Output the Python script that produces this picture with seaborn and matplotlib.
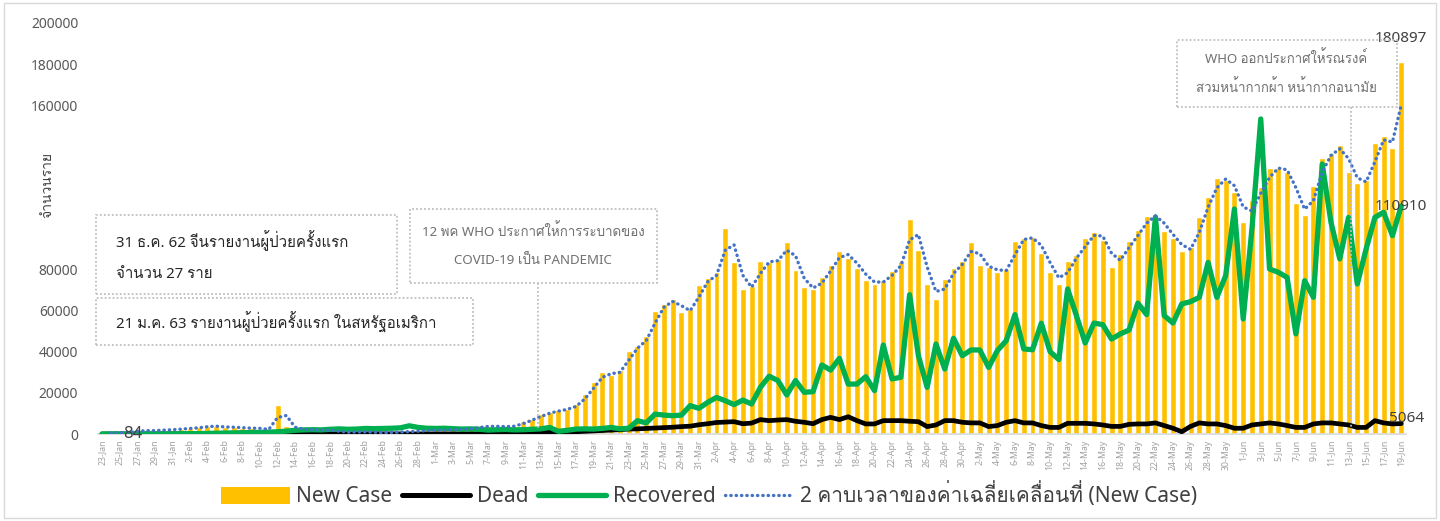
import numpy as np
import pandas as pd
import matplotlib
matplotlib.use("Agg")
import matplotlib.pyplot as plt
import seaborn as sns
from matplotlib import font_manager as fm
from matplotlib.ft2font import FT2Font
from matplotlib.patches import Rectangle, Patch
from matplotlib.lines import Line2D

# ---------------- data ----------------
dates = pd.date_range("2020-01-23", "2020-06-19", freq="D")
date_labels = [f"{d.day}-{d:%b}" for d in dates]

new_case = [
    300, 500, 700, 800, 1800, 1500, 1800, 2000, 2100,
    2600, 2800, 3200, 3900, 3700, 3200, 3400, 2700, 3000, 2500, 2000,
    14000, 4000, 2600, 2100, 2000, 1900, 1800, 900, 900, 1000, 1100, 700, 600, 900, 1000, 1300, 1400, 1900,
    1800, 1900, 2300, 2200, 2800, 3500, 3900, 3600, 3600, 4000,
    6200, 7300, 9700, 10500, 11800, 12200, 14600, 19500, 25100, 30000, 28700, 31300, 40500, 43000, 47900,
    60000, 63300, 65700, 59200, 60800, 72500,
    75700, 78700, 100200, 83900, 70600, 72200, 84000, 83500, 85200, 93600, 80000, 71500, 70600, 76200,
    82400, 89200, 85500, 80800, 74900, 73000, 74900, 79500, 84300, 104600, 89500, 73000, 65700, 75400,
    80800, 84300, 93300, 82200, 81100, 78700, 80300, 94100, 95200, 95700, 87900, 79000, 73000, 84000,
    87100, 95200, 98100, 94600, 81400, 87600, 93800, 99300, 105900, 106400, 98800, 95500, 88900, 90800,
    105400, 115200, 124400, 123700, 118000, 103000, 114000, 120200, 129400, 129400, 127700, 112200,
    106600, 120600, 134300, 136800, 140800, 127300, 122000, 123400, 141400, 144800, 139400, 180897,
]

dead = [
    8, 16, 15, 24, 26, 26, 38, 43, 46,
    45, 57, 64, 66, 73, 73, 86, 89, 97, 108, 97,
    254, 121, 143, 142, 106, 98, 136, 115, 118, 109, 97, 150, 71, 52, 29, 44, 47, 35,
    50, 70, 75, 85, 100, 100, 300, 350, 400, 500,
    600, 700, 800, 900, 1000, 1200, 1100, 1300, 1500, 1700, 1900, 2100, 2400, 2500, 2700,
    2900, 3100, 3300, 3600, 3800, 4500,
    5000, 5600, 5800, 6000, 5000, 5300, 7000, 6500, 6800, 7000, 6200, 5700, 5000, 7000,
    8100, 7000, 8400, 6500, 4900, 4900, 6500, 6500, 6500, 6200, 6000, 3600, 4400, 6500,
    6500, 5700, 5400, 5400, 3600, 4100, 5700, 6500, 5400, 5400, 4100, 3200, 3200, 5200,
    5200, 5200, 4900, 4400, 3700, 3700, 4700, 4900, 4900, 5400, 4100, 2800, 1100, 3700,
    5400, 4900, 4900, 4100, 2800, 2800, 4400, 4900, 5400, 4900, 4100, 3200,
    3200, 4900, 5400, 5400, 4900, 4400, 3200, 3200, 6500, 5400, 4900, 5064,
]

recovered = [
    0, 5, 10, 15, 20, 30, 40, 50, 70,
    100, 150, 200, 300, 350, 450, 550, 600, 700, 800, 900,
    1100, 1400, 1800, 2000, 2100, 2000, 2300, 2500, 2300, 2400, 2700, 2600, 2700, 2800, 3000, 4000, 3200, 2800,
    2700, 2800, 2600, 2400, 2500, 2300, 1900, 2100, 2200, 2000,
    2100, 2300, 2500, 3200, 1300, 1800, 2400, 2500, 2400, 2700, 3200, 2500, 2800, 6500, 5400,
    9700, 9200, 8900, 9200, 13800, 12500,
    15400, 17800, 16200, 14300, 16500, 14600, 22700, 28100, 26000, 19000, 26000, 20300, 20600, 33600,
    31100, 36800, 24300, 24300, 27900, 21100, 43300, 26800, 27600, 67800, 38100, 22700, 43800, 31600,
    46600, 38100, 40900, 40900, 32400, 40600, 45400, 58100, 41400, 41000, 53900, 40100, 36200, 70600,
    57600, 44300, 54000, 53200, 46200, 48700, 50600, 63700, 58100, 105600, 57600, 54000, 63300, 64400,
    66500, 83500, 66500, 77000, 109500, 56000, 100000, 153300, 80300, 78700, 76200, 48700,
    74600, 66500, 131400, 103000, 85200, 105400, 73000, 90000, 105400, 107900, 96500, 110910,
]

y_tick_values = [0, 20000, 40000, 60000, 80000, 160000, 180000, 200000]

series_names = ["New Case", "Dead", "Recovered", "2 คาบเวลาของค่าเฉลี่ยเคลื่อนที่ (New Case)"]
y_title = "จำนวนราย"
note_china = ["31 ธ.ค. 62 จีนรายงานผู้ป่วยครั้งแรก", "จำนวน 27 ราย"]
note_usa = "21 ม.ค. 63 รายงานผู้ป่วยครั้งแรก ในสหรัฐอเมริกา"
note_pandemic = ["12 พค WHO ประกาศให้การระบาดของ", "COVID-19 เป็น PANDEMIC"]
note_mask = ["WHO ออกประกาศให้รณรงค์", "สวมหน้ากากผ้า หน้ากากอนามัย"]
first_label = "84"

# ---------------- fonts ----------------
def find_thai_families():
    fams = []
    for f in fm.fontManager.ttflist:
        if f.name in fams:
            continue
        try:
            cm = FT2Font(f.fname).get_charmap()
        except Exception:
            continue
        if 0x0E08 in cm and 0x0E33 in cm and 0x0E49 in cm:
            fams.append(f.name)
    return fams

thai = find_thai_families()

sns.set_theme(style="white")
family = ["Noto Sans"] + thai[:2] + ["DejaVu Sans"]
plt.rcParams["font.family"] = family

# ---------------- figure ----------------
W, H = 1440, 521
fig = plt.figure(figsize=(W / 100, H / 100), dpi=100)
fig.patch.set_facecolor("white")

def fx(px):
    return px / W

def fy(py):
    return 1 - py / H

ax = fig.add_axes([fx(97.6), fy(434), fx(1405.6) - fx(97.6), fy(23) - fy(434)])

df = pd.DataFrame({
    "i": np.arange(len(dates)),
    "new": new_case,
    "dead": dead,
    "rec": recovered,
})
df["ma2"] = df["new"].rolling(2).mean()

sns.barplot(data=df, x="i", y="new", color="#FFC000", saturation=1, width=0.68, ax=ax, zorder=1)
sns.lineplot(data=df, x="i", y="dead", color="black", lw=3.4, ax=ax, zorder=3)
sns.lineplot(data=df, x="i", y="rec", color="#00B050", lw=3.8, ax=ax, zorder=4)
sns.lineplot(data=df, x="i", y="ma2", color="#4472C4", lw=2.4, linestyle=(0, (0.1, 1.5)),
             dash_capstyle="round", ax=ax, zorder=5)

ax.set_xlim(-0.5, len(dates) - 0.5)
ax.set_ylim(0, 200000)
ax.set_xlabel("")
ax.set_ylabel("")
ticks = np.arange(0, len(dates), 2)
ax.set_xticks(ticks)
ax.set_xticklabels([date_labels[t] for t in ticks], rotation=90, fontsize=6.3, color="#a0a0a0")
ax.set_yticks(y_tick_values)
ax.set_yticklabels([str(v) for v in y_tick_values])
ax.tick_params(axis="y", length=0, pad=14, labelsize=10, labelcolor="#595959")
ax.tick_params(axis="x", length=0, pad=4)
for s in ["top", "right", "left"]:
    ax.spines[s].set_visible(False)
ax.spines["bottom"].set_color("#d9d9d9")
ax.spines["bottom"].set_linewidth(1.2)
ax.grid(False)

# data labels
last = len(dates) - 1
ax.annotate(f"{new_case[-1]}", (last, new_case[-1]), xytext=(0, 17), textcoords="offset points",
            ha="center", va="center", fontsize=11, color="#404040")
ax.annotate(f"{recovered[-1]}", (last, recovered[-1]), xytext=(0, 0), textcoords="offset points",
            ha="center", va="center", fontsize=11, color="#404040", zorder=6)
ax.annotate(f"{dead[-1]}", (last, dead[-1]), xytext=(4, 4), textcoords="offset points",
            ha="center", va="center", fontsize=11, color="#404040", zorder=6)
ax.annotate(first_label, (3.5, 0), xytext=(0, 0), textcoords="offset points",
            ha="center", va="center", fontsize=12, color="#404040", zorder=6)

# y title
fig.text(fx(48), fy(185), y_title, rotation=90, ha="center", va="center", fontsize=10, color="#404040")

# annotation boxes
def box(x0, y0, x1, y1):
    fig.patches.append(Rectangle((fx(x0), fy(y1)), fx(x1) - fx(x0), fy(y0) - fy(y1),
                                 transform=fig.transFigure, fill=False, edgecolor="#bfbfbf",
                                 lw=1.3, linestyle=(0, (1, 1.2)), zorder=10))

def vline(x, y0, y1):
    fig.lines.append(Line2D([fx(x), fx(x)], [fy(y0), fy(y1)], transform=fig.transFigure,
                            color="#bfbfbf", lw=1.3, linestyle=(0, (1, 1.2)), zorder=10))

box(96, 215, 397, 294)
fig.text(fx(116), fy(241), note_china[0], ha="left", va="center", fontsize=10.8, color="#262626")
fig.text(fx(116), fy(275), note_china[1], ha="left", va="center", fontsize=10.8, color="#262626")
box(96, 298, 473, 345)
fig.text(fx(116), fy(322), note_usa, ha="left", va="center", fontsize=10.8, color="#262626")

box(410, 209, 657, 283)
vline(538, 283, 430)
fig.text(fx(533), fy(231), note_pandemic[0], ha="center", va="center", fontsize=9.6, color="#707070")
fig.text(fx(533), fy(260), note_pandemic[1], ha="center", va="center", fontsize=9.6, color="#707070")

box(1177, 40, 1397, 107)
vline(1351, 107, 430)
fig.text(fx(1286), fy(58), note_mask[0], ha="center", va="center", fontsize=9.5, color="#707070")
fig.text(fx(1286), fy(87), note_mask[1], ha="center", va="center", fontsize=9.5, color="#707070")

# outer border
fig.patches.append(Rectangle((fx(4), fy(518)), fx(1436) - fx(4), fy(3) - fy(518),
                             transform=fig.transFigure, fill=False, edgecolor="#d9d9d9", lw=1))

# legend
handles = [
    Patch(facecolor="#FFC000", edgecolor="none"),
    Line2D([], [], color="black", lw=3.6),
    Line2D([], [], color="#00B050", lw=3.8),
    Line2D([], [], color="#4472C4", lw=2.4, linestyle=(0, (0.1, 1.5)), dash_capstyle="round"),
]
fig.legend(handles, series_names, loc="center", bbox_to_anchor=(fx(709), fy(495)), ncol=4,
           frameon=False, fontsize=15, handlelength=3.3, handleheight=0.85,
           handletextpad=0.3, columnspacing=0.45, labelcolor="#404040")

fig.savefig("out.png", dpi=100, facecolor="white")
